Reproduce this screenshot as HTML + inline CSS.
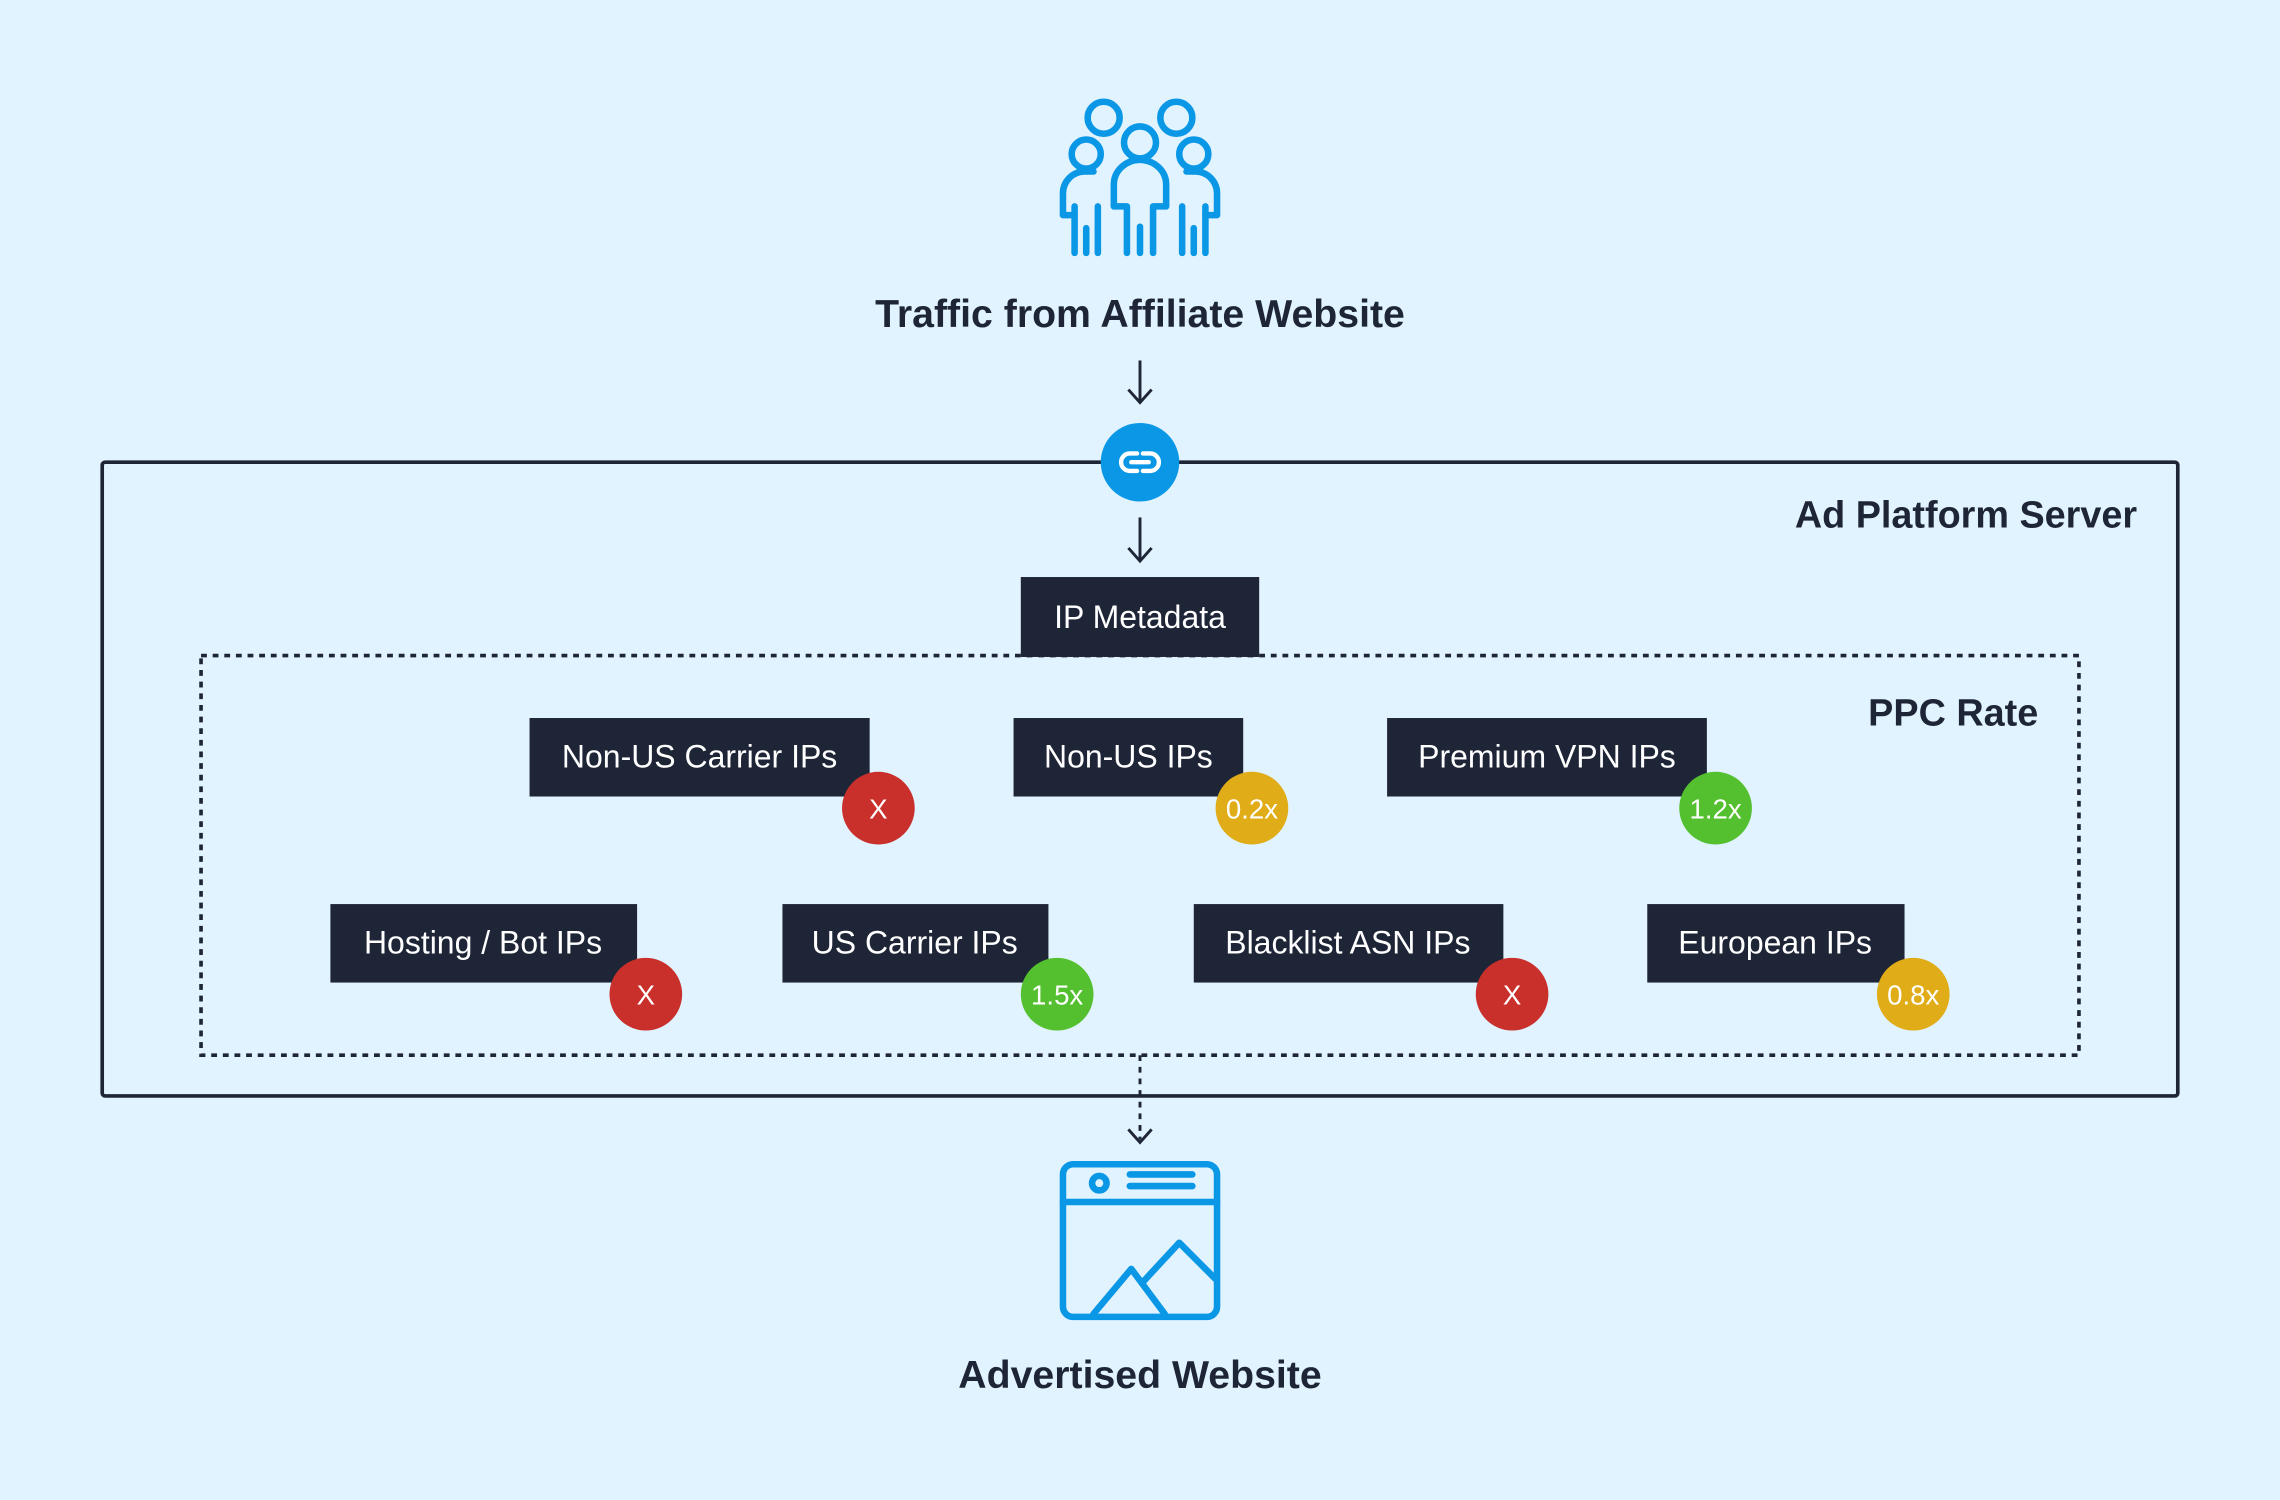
<!DOCTYPE html>
<html><head><meta charset="utf-8"><style>
html,body{margin:0;padding:0;background:#e0f3fe;}
svg{display:block}
text{font-family:"Liberation Sans",sans-serif;}
</style></head><body>
<svg width="2280" height="1500" viewBox="0 0 1568 1032" xmlns="http://www.w3.org/2000/svg">
<rect width="1568" height="1032" fill="#e0f3fe"/>
<!-- people icon -->
<g fill="none" stroke="#0a97e6" stroke-width="4.5" stroke-linecap="round" stroke-linejoin="round">
<circle cx="759" cy="81" r="11"/>
<circle cx="809" cy="81" r="11"/>
<circle cx="747" cy="106" r="10"/>
<circle cx="821" cy="106" r="10"/>
<circle cx="784" cy="98" r="11"/>
<path d="M774,142 H766 V127 A18,17 0 0 1 802,127 V142 H794"/>
<line x1="775" y1="142" x2="775" y2="174"/><line x1="784" y1="156" x2="784" y2="174"/><line x1="793" y1="142" x2="793" y2="174"/>
<path d="M739,148 H731 V133 A15,15 0 0 1 746,118 H752"/>
<path d="M829,148 H837 V133 A15,15 0 0 0 822,118 H816"/>
<line x1="739" y1="142" x2="739" y2="174"/><line x1="747" y1="157" x2="747" y2="174"/><line x1="755" y1="142" x2="755" y2="174"/>
<line x1="829" y1="142" x2="829" y2="174"/><line x1="821" y1="157" x2="821" y2="174"/><line x1="813" y1="142" x2="813" y2="174"/>
</g>
<text x="784" y="225" text-anchor="middle" font-size="27" font-weight="bold" fill="#1e2537">Traffic from Affiliate Website</text>
<g fill="none" stroke="#1e2537" stroke-width="2">
<line x1="784" y1="248" x2="784" y2="277"/><path d="M776,268 L784,277 L792,268"/>
<line x1="784" y1="356" x2="784" y2="386"/><path d="M776,377 L784,386 L792,377"/>
<line x1="784" y1="726" x2="784" y2="784" stroke-dasharray="4,4"/><path d="M776,777 L784,786 L792,777"/>
</g>
<!-- outer box -->
<rect x="70" y="318" width="1428" height="436" rx="2" fill="none" stroke="#1e2537" stroke-width="2.5"/>
<circle cx="784" cy="318" r="27" fill="#0a97e6"/>
<g fill="none" stroke="#fff" stroke-width="3" stroke-linecap="round">
<path d="M782,312 H777 A6,6 0 0 0 777,324 H782"/>
<path d="M786,312 H791 A6,6 0 0 1 791,324 H786"/>
<line x1="778" y1="318" x2="790" y2="318"/>
</g>
<text x="1470" y="363" text-anchor="end" font-size="26" font-weight="bold" fill="#1e2537">Ad Platform Server</text>
<!-- dotted box -->
<rect x="138" y="451" width="1292" height="275" fill="none" stroke="#1e2537" stroke-width="2.5" stroke-dasharray="4,4"/>
<text x="1402" y="499" text-anchor="end" font-size="26" font-weight="bold" fill="#1e2537">PPC Rate</text>
<rect x="702" y="397" width="164" height="55" fill="#1e2537"/>
<text x="784" y="432" text-anchor="middle" font-size="22" fill="#fff">IP Metadata</text>
<g font-size="22" fill="#fff" text-anchor="middle">
<rect x="364" y="494" width="234" height="54" fill="#1e2537"/><text x="481" y="528">Non-US Carrier IPs</text>
<rect x="697" y="494" width="158" height="54" fill="#1e2537"/><text x="776" y="528">Non-US IPs</text>
<rect x="954" y="494" width="220" height="54" fill="#1e2537"/><text x="1064" y="528">Premium VPN IPs</text>
<rect x="227" y="622" width="211" height="54" fill="#1e2537"/><text x="332" y="656">Hosting / Bot IPs</text>
<rect x="538" y="622" width="183" height="54" fill="#1e2537"/><text x="629" y="656">US Carrier IPs</text>
<rect x="821" y="622" width="213" height="54" fill="#1e2537"/><text x="927" y="656">Blacklist ASN IPs</text>
<rect x="1133" y="622" width="177" height="54" fill="#1e2537"/><text x="1221" y="656">European IPs</text>
</g>
<g font-size="19" fill="#fff" text-anchor="middle">
<circle cx="604" cy="556" r="25" fill="#c9302c"/><text x="604" y="563">X</text>
<circle cx="861" cy="556" r="25" fill="#e0ac17"/><text x="861" y="563">0.2x</text>
<circle cx="1180" cy="556" r="25" fill="#55c02f"/><text x="1180" y="563">1.2x</text>
<circle cx="444" cy="684" r="25" fill="#c9302c"/><text x="444" y="691">X</text>
<circle cx="727" cy="684" r="25" fill="#55c02f"/><text x="727" y="691">1.5x</text>
<circle cx="1040" cy="684" r="25" fill="#c9302c"/><text x="1040" y="691">X</text>
<circle cx="1316" cy="684" r="25" fill="#e0ac17"/><text x="1316" y="691">0.8x</text>
</g>
<!-- browser icon -->
<g fill="none" stroke="#0a97e6" stroke-width="4.5" stroke-linecap="round" stroke-linejoin="round">
<rect x="731" y="801" width="106" height="105" rx="7"/>
<line x1="731" y1="827" x2="837" y2="827"/>
<circle cx="756" cy="814" r="5"/>
<line x1="777" y1="808" x2="820" y2="808"/><line x1="777" y1="816" x2="820" y2="816"/>
<path d="M752,904 L778,873 L801,904"/>
<path d="M786,882 L811,855 L836,880"/>
</g>
<text x="784" y="955" text-anchor="middle" font-size="27" font-weight="bold" fill="#1e2537">Advertised Website</text>
</svg>
</body></html>
